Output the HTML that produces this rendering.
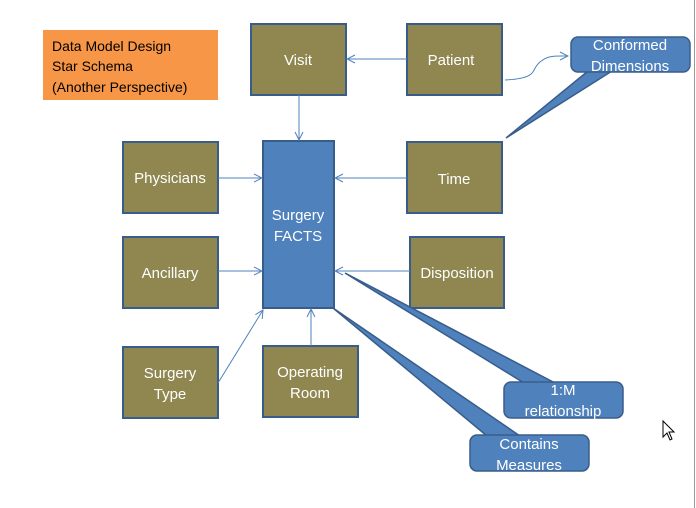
<!DOCTYPE html>
<html><head><style>
body{margin:0;background:#fff;}
svg{display:block;font-family:"Liberation Sans",sans-serif;}
</style></head><body>
<svg width="696" height="508" viewBox="0 0 696 508">
<defs>
<marker id="a" markerWidth="10" markerHeight="10" refX="9" refY="5" orient="auto" markerUnits="userSpaceOnUse">
<path d="M1,1 L9,5 L1,9" fill="none" stroke="#4F81BD" stroke-width="1"/>
</marker>
</defs>
<line x1="694.5" y1="0" x2="694.5" y2="508" stroke="#999" stroke-width="1"/>
<rect x="43" y="30" width="175" height="70" fill="#F79646"/>
<text font-size="14" fill="#000"><tspan x="52" y="51">Data Model Design</tspan><tspan x="52" y="71">Star Schema</tspan><tspan x="52" y="92">(Another Perspective)</tspan></text>
<g fill="#8F8650" stroke="#385D8A" stroke-width="2">
<rect x="251" y="24" width="95" height="71"/>
<rect x="407" y="24" width="95" height="71"/>
<rect x="123" y="142" width="95" height="71"/>
<rect x="407" y="142" width="95" height="71"/>
<rect x="123" y="237" width="95" height="71"/>
<rect x="410" y="237" width="94" height="71"/>
<rect x="123" y="347" width="95" height="71"/>
<rect x="263" y="346" width="95" height="71"/>
</g>
<rect x="263" y="141" width="71" height="167" fill="#4F81BD" stroke="#385D8A" stroke-width="2"/>
<g stroke="#4F81BD" stroke-width="1" fill="none" marker-end="url(#a)">
<line x1="299" y1="95" x2="299" y2="140"/>
<line x1="407" y1="59" x2="347" y2="59"/>
<line x1="218" y1="178" x2="262" y2="178"/>
<line x1="407" y1="178" x2="335" y2="178"/>
<line x1="218" y1="271" x2="262" y2="271"/>
<line x1="410" y1="271" x2="335" y2="271"/>
<line x1="218" y1="383" x2="263" y2="310"/>
<line x1="311" y1="346" x2="311" y2="309"/>
<path d="M505,80 C540,78 530,70 540,62 C548,55 556,56 568,56"/>
</g>
<g fill="#4F81BD" stroke="#385D8A" stroke-width="1.5">
<path d="M506,138 L588,71 L612,71 Z"/>
<rect x="571" y="37" width="119" height="35" rx="7"/>
<path d="M345,273 L524,383 L555,383 Z"/>
<rect x="504" y="382" width="119" height="36" rx="7"/>
<path d="M333,308 L487,436 L520,436 Z"/>
<rect x="470" y="435" width="119" height="36" rx="7"/>
</g>
<g fill="#fff" font-size="15" text-anchor="middle">
<text x="298" y="65">Visit</text>
<text x="451" y="65">Patient</text>
<text x="170" y="183">Physicians</text>
<text x="454" y="184">Time</text>
<text x="170" y="278">Ancillary</text>
<text x="457" y="278">Disposition</text>
<text x="170" y="378">Surgery</text><text x="170" y="399">Type</text>
<text x="310" y="377">Operating</text><text x="310" y="398">Room</text>
<text x="298" y="220">Surgery</text><text x="298" y="241">FACTS</text>
<text x="630" y="50">Conformed</text><text x="630" y="71">Dimensions</text>
<text x="563" y="395">1:M</text><text x="563" y="416">relationship</text>
<text x="529" y="449">Contains</text><text x="529" y="470">Measures</text>
</g>
<path d="M663,421 L663,437 L667,433 L670,440 L672,439 L669,432 L674,432 Z" fill="#fff" stroke="#000" stroke-width="1"/>
</svg>
</body></html>
